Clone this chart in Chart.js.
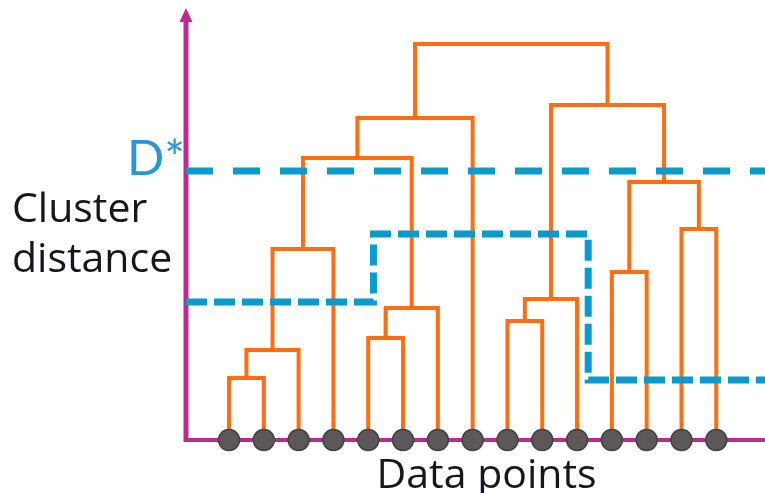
<!DOCTYPE html>
<html>
<head>
<meta charset="utf-8">
<script src="https://cdn.jsdelivr.net/npm/chart.js@4"></script>
<style>
html,body{margin:0;padding:0;background:#fff;overflow:hidden;}
#c{display:block;}
</style>
</head>
<body>
<canvas id="c" width="765" height="493" style="width:765px;height:493px;"></canvas>
<script>
// Leaves (data points) placed at index positions along the x axis
const leaves = ['p1','p2','p3','p4','p5','p6','p7','p8','p9','p10','p11','p12','p13','p14','p15'];
// Linkage: merge i creates node 15+i from mergeLeft[i] and mergeRight[i] at mergeHeight[i]
const mergeLeft   = [0, 15, 16, 4, 18, 17, 20, 8, 22, 11, 13, 24, 23, 21];
const mergeRight  = [1, 2, 3, 5, 6, 19, 7, 9, 10, 12, 14, 25, 26, 27];
const mergeHeight = [6.2, 9.0, 19.1, 10.2, 13.2, 28.2, 32.2, 11.9, 14.1, 16.8, 21.1, 25.8, 33.5, 39.6];
// Threshold D*
const dStar = 26.9;
// Alternative (stepped) cut path
const cutX = [-1.236, 4.15, 4.15, 10.32, 10.32, 15.4];
const cutH = [13.8, 13.8, 20.6, 20.6, 6.0, 6.0];

const X_MIN = -1.236, X_MAX = 15.4, Y_MIN = 0, Y_MAX = 43.2;

const ORANGE = '#FF6E12';
const BLUE = '#0A9ACB';
const MAGENTA = '#B92C8D';

// compute node positions
const nodeX = leaves.map((_, i) => i);
const nodeH = leaves.map(() => 0);
const datasets = [];
mergeLeft.forEach((l, i) => {
  const r = mergeRight[i];
  const h = mergeHeight[i];
  datasets.push({
    type: 'line',
    data: [{x: nodeX[l], y: nodeH[l]}, {x: nodeX[l], y: h}, {x: nodeX[r], y: h}, {x: nodeX[r], y: nodeH[r]}],
    borderColor: ORANGE, borderWidth: 4, pointRadius: 0, fill: false, tension: 0,
    borderJoinStyle: 'miter', borderCapStyle: 'butt', clip: false, order: 3
  });
  nodeX.push((nodeX[l] + nodeX[r]) / 2);
  nodeH.push(h);
});

datasets.push({
  type: 'line',
  data: [{x: X_MIN, y: dStar}, {x: X_MAX, y: dStar}],
  borderColor: BLUE, borderWidth: 7, borderDash: [27, 20], pointRadius: 0,
  fill: false, clip: false, order: 2, borderCapStyle: 'butt'
});
datasets.push({
  type: 'line',
  data: cutX.map((x, i) => ({x, y: cutH[i]})),
  borderColor: BLUE, borderWidth: 7, borderDash: [21, 7], pointRadius: 0,
  fill: false, clip: false, order: 2, borderCapStyle: 'butt', borderJoinStyle: 'miter'
});
datasets.push({
  type: 'scatter',
  data: leaves.map((_, i) => ({x: i, y: 0})),
  pointRadius: 10.5, pointBackgroundColor: '#5C5758', pointBorderColor: '#454142',
  pointBorderWidth: 1.5, clip: false, order: 0
});

const axesPlugin = {
  id: 'axes',
  beforeDatasetsDraw(chart) {
    const {ctx, chartArea: a} = chart;
    ctx.save();
    ctx.strokeStyle = MAGENTA;
    ctx.fillStyle = MAGENTA;
    ctx.lineWidth = 4;
    ctx.beginPath();
    ctx.moveTo(a.left, a.bottom);
    ctx.lineTo(a.right, a.bottom);
    ctx.stroke();
    ctx.lineWidth = 5;
    ctx.beginPath();
    ctx.moveTo(a.left, a.bottom + 2);
    ctx.lineTo(a.left, a.top + 12);
    ctx.stroke();
    ctx.beginPath();
    ctx.moveTo(a.left, a.top);
    ctx.lineTo(a.left + 6.5, a.top + 14);
    ctx.lineTo(a.left - 6.5, a.top + 14);
    ctx.closePath();
    ctx.fill();
    ctx.restore();
  },
  afterDraw(chart) {
    const {ctx, chartArea: a, scales} = chart;
    const ys = scales.y, xs = scales.x;
    ctx.save();
    ctx.textBaseline = 'alphabetic';
    ctx.fillStyle = '#2A96D4';
    ctx.font = '49px Lato, "Open Sans", sans-serif';
    ctx.textAlign = 'right';
    ctx.fillText('D*', a.left - 1, ys.getPixelForValue(dStar) + 4);
    ctx.fillStyle = '#16161f';
    ctx.font = '41px "Open Sans", Lato, sans-serif';
    ctx.textAlign = 'left';
    ctx.fillText('Cluster', 12, 222);
    ctx.fillText('distance', 12, 272);
    ctx.textAlign = 'center';
    ctx.fillText('Data points', xs.getPixelForValue(7.4), 488);
    ctx.restore();
  }
};

new Chart(document.getElementById('c'), {
  type: 'scatter',
  data: {datasets},
  options: {
    responsive: false,
    maintainAspectRatio: false,
    animation: false,
    devicePixelRatio: 1,
    layout: {autoPadding: false, padding: {left: 186, right: 0, top: 8, bottom: 53}},
    plugins: {legend: {display: false}, tooltip: {enabled: false}},
    scales: {
      x: {type: 'linear', min: X_MIN, max: X_MAX, display: false},
      y: {type: 'linear', min: Y_MIN, max: Y_MAX, display: false}
    }
  },
  plugins: [axesPlugin]
});
</script>
</body>
</html>
